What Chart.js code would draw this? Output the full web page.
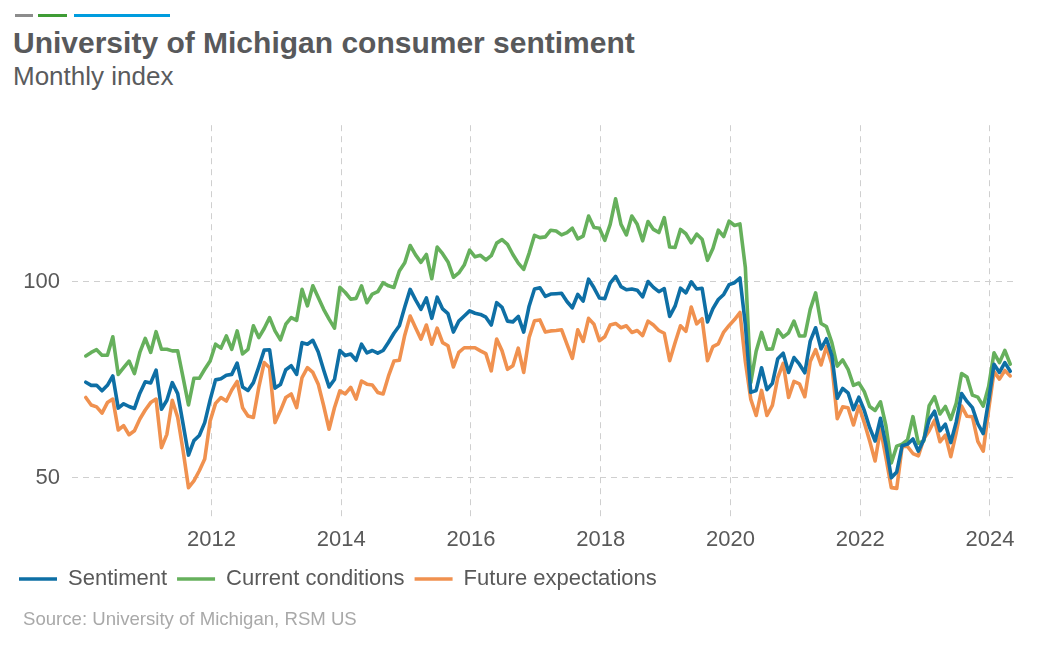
<!DOCTYPE html>
<html>
<head>
<meta charset="utf-8">
<script src="https://cdn.jsdelivr.net/npm/chart.js@4/dist/chart.umd.min.js"></script>
<style>
  html, body { margin: 0; padding: 0; background: #ffffff; }
  body { width: 1059px; height: 647px; position: relative; overflow: hidden; font-family: "Liberation Sans", Arial, sans-serif; }
  .bar { position: absolute; top: 14px; height: 3px; }
  #title { position: absolute; left: 13px; top: 28px; font-size: 30px; line-height: 30px; font-weight: bold; color: #58595b; white-space: nowrap; }
  #subtitle { position: absolute; left: 13px; top: 63px; font-size: 26px; line-height: 26px; color: #5a5b5d; white-space: nowrap; }
  #source { position: absolute; left: 23px; top: 610px; font-size: 18.6px; line-height: 18.6px; color: #a9a9a9; white-space: nowrap; }
  #wrap { position: absolute; left: 0; top: 100px; width: 1059px; height: 510px; }
</style>
</head>
<body>
<div class="bar" style="left:15px;width:18px;background:#8c8c8c"></div>
<div class="bar" style="left:38px;width:29px;background:#3f9c35"></div>
<div class="bar" style="left:74px;width:96px;background:#009cde"></div>
<div id="title">University of Michigan consumer sentiment</div>
<div id="subtitle">Monthly index</div>
<div id="wrap"><canvas id="c"></canvas></div>
<div id="source">Source: University of Michigan, RSM US</div>
<script>
// First observation: January 2010, monthly through April 2024
const startYear = 2010;
const seriesNames = ["Sentiment", "Current conditions", "Future expectations"];
const xTicks = [2012, 2014, 2016, 2018, 2020, 2022, 2024];
const yTicks = [50, 100];

const sentiment = [
  74.4, 73.6, 73.6, 72.2, 73.6, 76.0, 67.8, 68.9, 68.2, 67.7, 71.6, 74.5,
  74.2, 77.5, 67.5, 69.8, 74.3, 71.5, 63.7, 55.8, 59.5, 60.8, 64.1, 69.9,
  75.0, 75.3, 76.2, 76.4, 79.3, 73.2, 72.3, 74.3, 78.3, 82.6, 82.7, 72.9,
  73.8, 77.6, 78.6, 76.4, 84.5, 84.1, 85.1, 82.1, 77.5, 73.2, 75.1, 82.5,
  81.2, 81.6, 80.0, 84.1, 81.9, 82.5, 81.8, 82.5, 84.6, 86.9, 88.8, 93.6,
  98.1, 95.4, 93.0, 95.9, 90.7, 96.1, 93.1, 91.9, 87.2, 90.0, 91.3, 92.6,
  92.0, 91.7, 91.0, 89.0, 94.7, 93.5, 90.0, 89.8, 91.2, 87.2, 93.8, 98.2,
  98.5, 96.3, 96.9, 97.0, 97.1, 95.0, 93.4, 96.8, 95.1, 100.7, 98.5, 95.9,
  95.7, 99.7, 101.4, 98.8, 98.0, 98.2, 97.9, 96.2, 100.1, 98.6, 97.5, 98.3,
  91.2, 93.8, 98.4, 97.2, 100.0, 98.2, 98.4, 89.8, 93.2, 95.5, 96.8, 99.3,
  99.8, 101.0, 89.1, 71.8, 72.3, 78.1, 72.5, 74.1, 80.4, 81.8, 76.9, 80.7,
  79.0, 76.8, 84.9, 88.3, 82.9, 85.5, 81.2, 70.3, 72.8, 71.7, 67.4, 70.6,
  67.2, 62.8, 59.4, 65.2, 58.4, 50.0, 51.5, 58.2, 58.6, 59.9, 56.8, 59.7,
  64.9, 67.0, 62.0, 63.7, 59.0, 64.2, 71.5, 69.5, 67.9, 63.8, 61.3, 69.7,
  79.0, 76.9, 79.4, 77.2
];

const currentConditions = [
  81.1, 82.0, 82.7, 81.3, 81.3, 86.0, 76.4, 78.1, 79.8, 76.6, 82.0, 85.6,
  82.0, 87.3, 82.8, 82.8, 82.4, 82.4, 75.6, 68.6, 75.4, 75.4, 77.7, 79.8,
  84.1, 83.1, 86.2, 82.8, 87.5, 81.6, 82.8, 88.8, 85.8, 88.1, 90.9, 87.5,
  85.2, 89.2, 90.9, 90.2, 98.1, 93.9, 99.0, 96.0, 93.0, 90.5, 88.2, 98.6,
  97.3, 95.6, 95.8, 99.0, 94.7, 96.9, 97.5, 99.8, 99.0, 98.6, 102.8, 104.9,
  109.3, 106.9, 105.0, 107.0, 100.8, 108.9, 107.2, 105.1, 101.2, 102.3, 104.3, 108.1,
  106.4, 106.8, 105.6, 106.7, 109.9, 110.8, 109.6, 107.0, 104.8, 103.2, 107.3, 111.9,
  111.3, 111.5, 113.2, 113.0, 112.0, 112.6, 113.7, 111.0, 111.7, 116.8, 113.9, 113.7,
  110.6, 114.7, 121.2, 114.7, 112.0, 116.8, 114.7, 110.5, 115.4, 113.4, 112.6, 116.4,
  108.9, 108.8, 113.4, 112.3, 110.0, 112.2, 110.9, 105.5, 108.5, 113.2, 111.6, 115.5,
  114.4, 114.8, 103.7, 74.3, 82.3, 87.1, 82.8, 82.9, 87.8, 85.9, 87.0, 90.0,
  86.2, 86.2, 93.0, 97.2, 89.4, 88.6, 84.5, 78.5, 80.1, 77.7, 73.6, 74.2,
  72.0, 68.2, 67.2, 69.4, 63.3, 53.8, 58.1, 58.6, 59.7, 65.6, 58.8, 59.4,
  68.4, 70.7, 66.3, 68.2, 64.9, 69.0, 76.6, 75.7, 71.1, 70.6, 68.3, 73.3,
  81.9, 79.4, 82.5, 79.0
];

const futureExpectations = [
  70.5, 68.6, 68.1, 66.5, 69.2, 70.1, 62.2, 63.3, 61.0, 62.0, 65.0, 67.3,
  69.2, 70.1, 57.7, 61.1, 69.8, 65.4, 56.9, 47.5, 49.2, 51.8, 54.8, 64.5,
  69.0, 70.5, 69.6, 72.4, 74.6, 67.9, 65.8, 65.4, 73.1, 79.4, 78.1, 64.1,
  67.1, 70.5, 71.4, 67.9, 75.6, 78.1, 76.9, 73.9, 68.4, 62.4, 67.9, 72.2,
  71.4, 73.1, 70.1, 74.7, 73.9, 73.7, 71.8, 71.4, 76.0, 79.8, 80.0, 86.4,
  91.3, 88.3, 85.4, 89.0, 84.1, 88.2, 84.5, 83.7, 78.3, 82.0, 83.2, 83.2,
  83.2, 82.4, 81.7, 77.3, 85.4, 82.4, 77.7, 78.6, 83.1, 76.9, 85.8, 90.1,
  90.3, 87.2, 87.5, 87.6, 87.8, 84.1, 80.5, 87.8, 84.8, 90.7, 89.2, 85.0,
  86.0, 89.0, 89.4, 88.3, 88.8, 87.1, 87.6, 86.3, 90.0, 89.0, 87.6, 86.9,
  79.9, 84.5, 88.8, 87.4, 93.6, 89.3, 90.6, 79.9, 83.5, 84.2, 87.2, 88.9,
  90.4, 92.2, 79.7, 70.1, 65.9, 72.3, 65.9, 68.5, 75.6, 79.2, 70.5, 74.6,
  74.0, 70.7, 79.7, 82.7, 78.8, 83.5, 79.0, 65.1, 68.1, 67.9, 63.5, 68.3,
  64.1, 59.4, 54.3, 62.5, 55.2, 47.5, 47.3, 58.0, 58.0, 56.2, 55.6, 59.9,
  62.0, 64.7, 59.2, 60.9, 55.4, 61.5, 68.3, 65.7, 65.6, 59.3, 56.8, 67.4,
  77.1, 75.2, 77.4, 76.0
];

const colors = ["#0e6fa5", "#66b05c", "#f0914f"];

// month i -> decimal year (observation placed near month end)
function toPoints(values) {
  return values.map((v, i) => ({ x: startYear + (i + 0.75) / 12, y: v }));
}

const FONT = "'Liberation Sans', Arial, sans-serif";
const TXT = "#595959";
const GRID = "#cfcfcf";

new Chart(document.getElementById("c"), {
  type: "line",
  data: {
    datasets: [sentiment, currentConditions, futureExpectations].map((arr, k) => ({
      label: seriesNames[k],
      data: toPoints(arr),
      borderColor: colors[k],
      backgroundColor: colors[k],
      borderWidth: 3.6,
      pointRadius: 0,
      pointHoverRadius: 0,
      tension: 0,
      borderJoinStyle: "round",
      borderCapStyle: "round",
      fill: false
    }))
  },
  options: {
    responsive: true,
    maintainAspectRatio: false,
    animation: false,
    events: [],
    layout: { padding: { left: 9, right: 41, top: 21, bottom: 10 } },
    plugins: {
      tooltip: { enabled: false },
      title: { display: false },
      legend: {
        display: true,
        position: "bottom",
        align: "start",
        labels: {
          usePointStyle: true,
          pointStyle: "line",
          pointStyleWidth: 38,
          boxHeight: 22,
          padding: 10,
          color: TXT,
          font: { family: FONT, size: 22 }
        }
      }
    },
    scales: {
      x: {
        type: "linear",
        min: 2009.85,
        max: 2024.432,
        afterFit: (s) => { s.height = 41; },
        afterBuildTicks: (s) => { s.ticks = xTicks.map(v => ({ value: v })); },
        border: { display: false, dash: [6, 5] },
        grid: { color: GRID, lineWidth: 1, drawTicks: false },
        ticks: {
          padding: 10,
          color: TXT,
          font: { family: FONT, size: 22 },
          maxRotation: 0,
          autoSkip: false,
          callback: (v) => String(v)
        }
      },
      y: {
        type: "linear",
        min: 40,
        max: 140,
        afterFit: (s) => { s.width = 63; },
        afterBuildTicks: (s) => { s.ticks = yTicks.map(v => ({ value: v })); },
        border: { display: false, dash: [6, 5] },
        grid: { color: GRID, lineWidth: 1, drawTicks: false },
        ticks: {
          padding: 12,
          color: TXT,
          font: { family: FONT, size: 22 },
          callback: (v) => String(v)
        }
      }
    }
  }
});
</script>
</body>
</html>
